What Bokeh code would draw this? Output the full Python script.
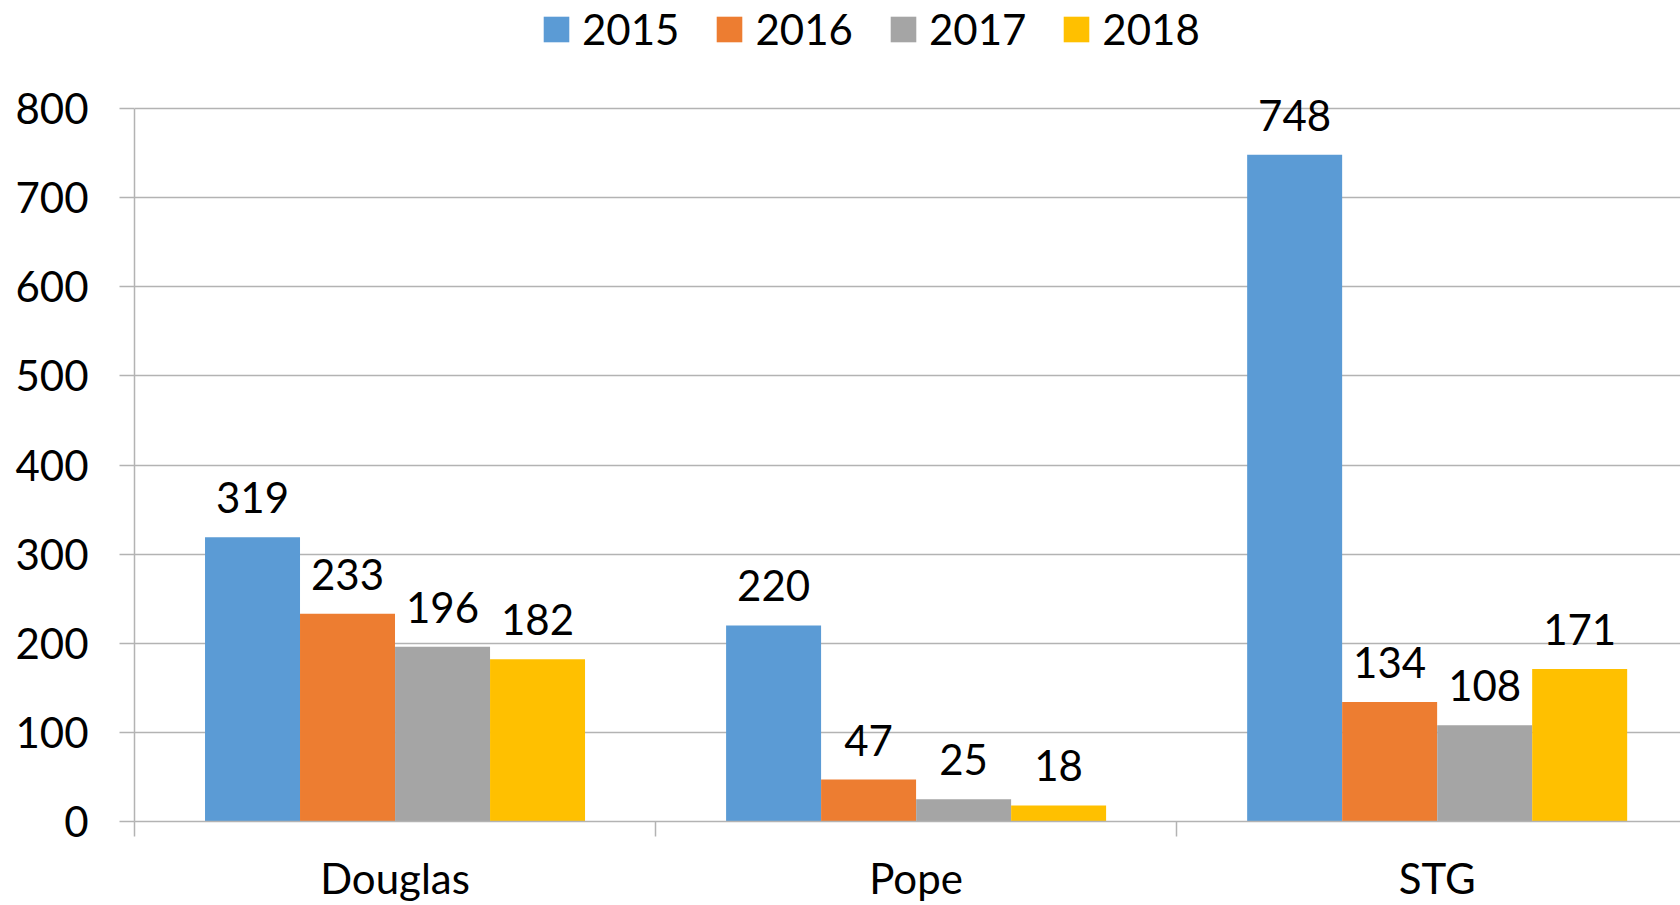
from bokeh.plotting import figure
from bokeh.models import (Range1d, FixedTicker, ColumnDataSource, LabelSet, Legend, LegendItem)
from bokeh.core.properties import value
from bokeh.embed import file_html
from bokeh.resources import INLINE

categories = ["Douglas", "Pope", "STG"]
years = ["2015", "2016", "2017", "2018"]
v2015 = [319, 220, 748]
v2016 = [233, 47, 134]
v2017 = [196, 25, 108]
v2018 = [182, 18, 171]
colors = ["#5B9BD5", "#ED7D31", "#A5A5A5", "#FFC000"]
y_ticks = [0, 100, 200, 300, 400, 500, 600, 700, 800]

series = [v2015, v2016, v2017, v2018]
FONT = "Lato"
FS = "42px"
GRID = "#b3b3b3"

p = figure(width=1680, height=905, output_backend="svg", toolbar_location=None,
           x_range=Range1d(0, 2.967), y_range=Range1d(0, 921.2),
           min_border_left=134, min_border_top=0, min_border_bottom=84, min_border_right=0)
p.outline_line_color = None
p.background_fill_color = "white"
p.border_fill_color = "white"

bar_w = 0.1823
offsets = [-0.2735, -0.0912, 0.0912, 0.2735]
items = []
for i, (vals, col, yr) in enumerate(zip(series, colors, years)):
    xs = [k + 0.5 + offsets[i] for k in range(len(categories))]
    src = ColumnDataSource(dict(x=xs, top=vals, lab=[str(v) for v in vals]))
    r = p.vbar(x="x", top="top", width=bar_w, bottom=0, source=src,
               fill_color=col, line_color=None)
    items.append(LegendItem(label=yr, renderers=[r]))
    ls = LabelSet(x="x", y="top", text="lab", source=src, text_align="center",
                  text_baseline="alphabetic", y_offset=24, text_font=value(FONT),
                  text_font_size=value(FS), text_color="black")
    p.add_layout(ls)

# x axis
p.xaxis.ticker = FixedTicker(ticks=[0.5, 1.5, 2.5], minor_ticks=[0, 1, 2, 3])
p.xaxis.major_label_overrides = {0.5: categories[0], 1.5: categories[1], 2.5: categories[2]}
p.xaxis.major_label_text_font = FONT
p.xaxis.major_label_text_font_size = FS
p.xaxis.major_label_text_color = "black"
p.xaxis.major_label_standoff = 16
p.xaxis.major_tick_line_color = None
p.xaxis.major_tick_out = 0
p.xaxis.major_tick_in = 0
p.xaxis.minor_tick_out = 15
p.xaxis.minor_tick_in = 0
p.xaxis.minor_tick_line_color = GRID
p.xaxis.minor_tick_line_width = 1.5
p.xaxis.axis_line_color = GRID
p.xaxis.axis_line_width = 1.5
p.xgrid.grid_line_color = None

# y axis
p.yaxis.ticker = FixedTicker(ticks=y_ticks)
p.yaxis.bounds = (0, 800)
p.yaxis.major_tick_out = 15
p.yaxis.major_tick_in = 0
p.yaxis.major_tick_line_color = GRID
p.yaxis.major_tick_line_width = 1.5
p.yaxis.minor_tick_line_color = None
p.yaxis.axis_line_color = GRID
p.yaxis.axis_line_width = 1.5
p.yaxis.major_label_text_font = FONT
p.yaxis.major_label_text_font_size = FS
p.yaxis.major_label_text_color = "black"
p.yaxis.major_label_standoff = 31
p.ygrid.grid_line_color = GRID
p.ygrid.grid_line_width = 1.5
p.ygrid.level = "underlay"

legend = Legend(items=items, orientation="horizontal", location=(406, 767),
                glyph_width=32, glyph_height=32, label_standoff=10, spacing=34,
                label_text_font=FONT, label_text_font_size=FS, label_text_color="black",
                border_line_alpha=0, background_fill_alpha=0, padding=0, margin=0)
p.add_layout(legend, "center")

open("out.html", "w").write(file_html(p, INLINE))
